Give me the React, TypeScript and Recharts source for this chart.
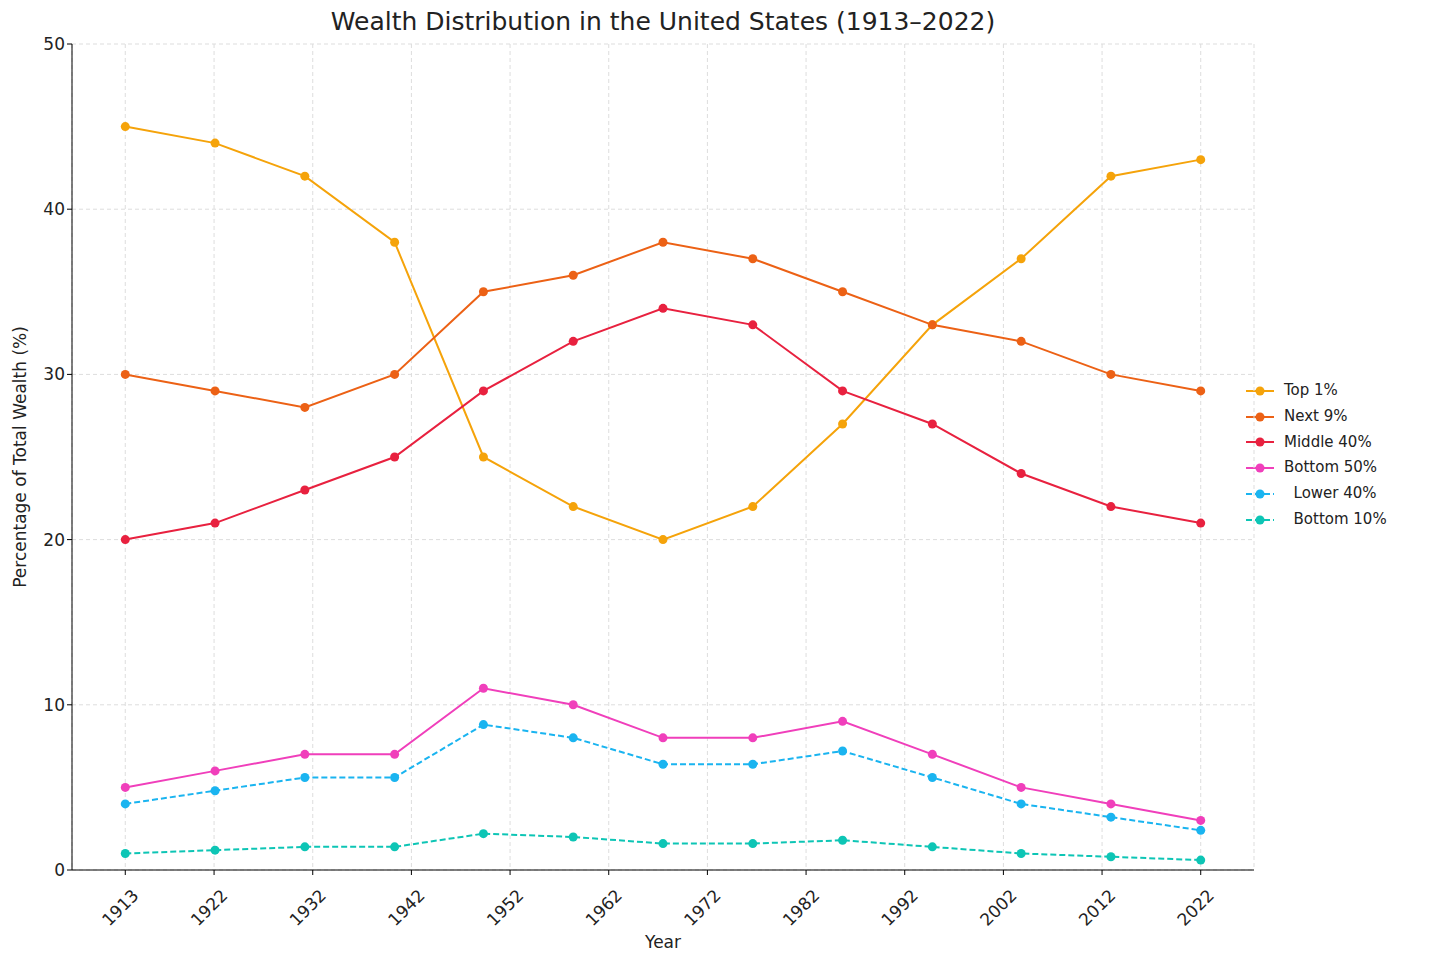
import React from "react";
import { LineChart, Line, XAxis, YAxis, CartesianGrid } from "recharts";

const years = [1913, 1922.1, 1931.2, 1940.3, 1949.3, 1958.4, 1967.5, 1976.6, 1985.7, 1994.8, 2003.8, 2012.9, 2022];
const top1 = [45, 44, 42, 38, 25, 22, 20, 22, 27, 33, 37, 42, 43];
const next9 = [30, 29, 28, 30, 35, 36, 38, 37, 35, 33, 32, 30, 29];
const middle40 = [20, 21, 23, 25, 29, 32, 34, 33, 29, 27, 24, 22, 21];
const bottom50 = [5, 6, 7, 7, 11, 10, 8, 8, 9, 7, 5, 4, 3];
const lower40 = [4, 4.8, 5.6, 5.6, 8.8, 8, 6.4, 6.4, 7.2, 5.6, 4, 3.2, 2.4];
const bottom10 = [1, 1.2, 1.4, 1.4, 2.2, 2, 1.6, 1.6, 1.8, 1.4, 1, 0.8, 0.6];
const xTicks = [1913, 1922, 1932, 1942, 1952, 1962, 1972, 1982, 1992, 2002, 2012, 2022];
const yTicks = [0, 10, 20, 30, 40, 50];

const data = years.map((year, i) => ({
  year,
  top1: top1[i],
  next9: next9[i],
  middle40: middle40[i],
  bottom50: bottom50[i],
  lower40: lower40[i],
  bottom10: bottom10[i],
}));

const series = [
  { key: "top1", name: "Top 1%", color: "#f5a30a", dash: false },
  { key: "next9", name: "Next 9%", color: "#ec6115", dash: false },
  { key: "middle40", name: "Middle 40%", color: "#e8213f", dash: false },
  { key: "bottom50", name: "Bottom 50%", color: "#f03fbb", dash: false },
  { key: "lower40", name: "  Lower 40%", color: "#1ab4f0", dash: true },
  { key: "bottom10", name: "  Bottom 10%", color: "#0dc5b5", dash: true },
];

const font = "DejaVu Sans, sans-serif";

const XTick = (props: any) => {
  const { x, y, payload } = props;
  return (
    <g transform={`translate(${x},${y})`}>
      <line x1={0} y1={-8} x2={0} y2={-3} stroke="#000" />
      <text transform="translate(6,10) rotate(-45)" textAnchor="end" dy={12} fontSize={17} fill="#222" fontFamily={font}>
        {payload.value}
      </text>
    </g>
  );
};

export default function App() {
  return (
    <div style={{ position: "absolute", left: 0, top: 0, width: 1456, height: 967, background: "#fff", fontFamily: font }}>
      <div style={{ position: "absolute", top: 7, left: 72, width: 1182, textAlign: "center", fontSize: 25, color: "#222" }}>
        Wealth Distribution in the United States (1913–2022)
      </div>
      <div style={{ position: "absolute", left: 72, width: 1182, top: 932, textAlign: "center", fontSize: 17, color: "#222" }}>
        Year
      </div>
      <div style={{ position: "absolute", left: 20, top: 457, transform: "translate(-50%,-50%) rotate(-90deg)", fontSize: 17, color: "#222", whiteSpace: "nowrap" }}>
        Percentage of Total Wealth (%)
      </div>
      <div style={{ position: "absolute", left: 1272, top: 378, fontSize: 15, color: "#222", lineHeight: "25.8px" }}>
        {series.map((s) => (
          <div key={s.key} style={{ display: "flex", alignItems: "center", whiteSpace: "pre" }}>
            <svg width={40} height={12} style={{ marginLeft: -28 }}>
              <line x1={2} y1={6} x2={30} y2={6} stroke={s.color} strokeWidth={2} strokeDasharray={s.dash ? "6 3" : undefined} />
              <circle cx={16} cy={6} r={4.5} fill={s.color} />
            </svg>
            {s.name}
          </div>
        ))}
      </div>
      <div style={{ position: "absolute", left: 0, top: 0 }}>
        <LineChart width={1456} height={967} data={data} margin={{ top: 44, right: 202, bottom: 0, left: 0 }}>
          <CartesianGrid stroke="#ddd" strokeDasharray="4 3" />
          <XAxis
            dataKey="year"
            type="number"
            domain={[1907.6, 2027.4]}
            ticks={xTicks}
            tick={<XTick />}
            tickLine={false}
            height={97}
            stroke="#000"
            interval={0}
            allowDataOverflow
          />
          <YAxis
            domain={[0, 50]}
            ticks={yTicks}
            width={72}
            stroke="#000"
            tick={{ fontSize: 17, fill: "#222", fontFamily: font }}
            tickSize={5}
          />
          {series.map((s) => (
            <Line
              key={s.key}
              dataKey={s.key}
              name={s.name}
              stroke={s.color}
              strokeWidth={2}
              strokeDasharray={s.dash ? "6 3" : undefined}
              dot={{ r: 4.5, fill: s.color, stroke: "none" }}
              isAnimationActive={false}
            />
          ))}
        </LineChart>
      </div>
    </div>
  );
}
